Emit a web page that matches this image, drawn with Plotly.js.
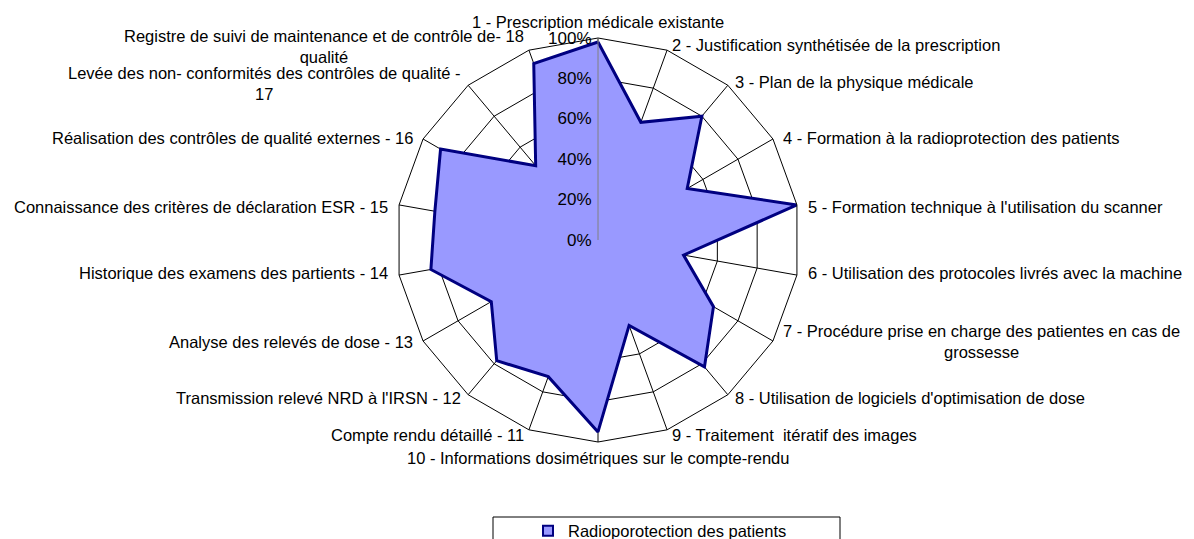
<!DOCTYPE html>
<html>
<head>
<meta charset="utf-8">
<script src="https://cdn.plot.ly/plotly-3.0.1.min.js"></script>
<style>html,body{margin:0;padding:0;background:#fff;}#chart{width:1194px;height:539px;}</style>
</head>
<body>
<div id="chart"></div>
<script>
const categories = [
  "1 - Prescription médicale existante",
  "2 - Justification synthétisée de la prescription",
  "3 - Plan de la physique médicale",
  "4 - Formation à la radioprotection des patients",
  "5 - Formation technique à l'utilisation du scanner",
  "6 - Utilisation des protocoles livrés avec la machine",
  "7 - Procédure prise en charge des patientes en cas de<br>grossesse",
  "8 - Utilisation de logiciels d'optimisation de dose",
  "9 - Traitement  itératif des images",
  "10 - Informations dosimétriques sur le compte-rendu",
  "Compte rendu détaillé - 11",
  "Transmission relevé NRD à l'IRSN - 12",
  "Analyse des relevés de dose - 13",
  "Historique des examens des partients - 14",
  "Connaissance des critères de déclaration ESR - 15",
  "Réalisation des contrôles de qualité externes - 16",
  "Levée des non- conformités des contrôles de qualité -<br>17",
  "Registre de suivi de maintenance et de contrôle de- 18<br>qualité"
];
const values = [0.98, 0.62, 0.80, 0.51, 1.00, 0.43, 0.66, 0.82, 0.45, 0.95, 0.72, 0.78, 0.61, 0.84, 0.82, 0.90, 0.48, 0.93];
const seriesName = "Radioporotection des patients";
const radialTickVals = [0, 0.2, 0.4, 0.6, 0.8, 1.0];
const radialTickText = ["0%", "20%", "40%", "60%", "80%", "100%"];

const W = 1194, H = 539;
const font = "Liberation Sans, Arial, sans-serif";
const CX = 598, CY = 240, R = 202;

// category labels placed just outside the outer polygon
const annotations = categories.map((txt, i) => {
  const a = i * 2 * Math.PI / categories.length;
  const s = Math.sin(a), c = Math.cos(a);
  const d = R + 10;
  const px = CX + d * s;
  let py = CY - d * c + 4 * Math.sign(c);
  if (txt.indexOf("<br>") >= 0 && s < 0) py += 2;
  let xanchor = "center", yanchor = "middle";
  if (s > 0.05) xanchor = "left"; else if (s < -0.05) xanchor = "right";
  else yanchor = c > 0 ? "bottom" : "top";
  return {
    text: txt, showarrow: false, xref: "paper", yref: "paper",
    x: px / W, y: 1 - py / H, xanchor: xanchor, yanchor: yanchor,
    align: "center", borderpad: 0,
    font: {family: font, size: 16.5, color: "#000"}
  };
});

const trace = {
  type: "scatterpolar",
  r: values.concat([values[0]]),
  theta: categories.concat([categories[0]]),
  mode: "lines",
  fill: "toself",
  fillcolor: "#9999FF",
  line: {color: "#000080", width: 3},
  name: seriesName,
  showlegend: false,
  hoverinfo: "skip"
};
// legend-only entry (no drawn point) showing the square swatch
const legendTrace = {
  type: "scatterpolar",
  r: [null], theta: [null],
  mode: "markers",
  marker: {symbol: "square", size: 10, color: "#9999FF", line: {color: "#000080", width: 2}},
  name: seriesName,
  showlegend: true,
  hoverinfo: "skip"
};
const layout = {
  width: W, height: H,
  margin: {l: 0, r: 0, t: 0, b: 0, autoexpand: false},
  paper_bgcolor: "#ffffff",
  font: {family: font, size: 16.5, color: "#000"},
  showlegend: true,
  legend: {
    orientation: "h", x: 660 / W, xanchor: "center",
    y: 1 - 531 / H, yanchor: "middle",
    bgcolor: "rgba(0,0,0,0)", borderwidth: 0,
    font: {family: font, size: 16.5, color: "#000"}
  },
  shapes: [{
    type: "rect", xref: "paper", yref: "paper",
    x0: 493 / W, x1: 840 / W, y0: -0.02, y1: (H - 517) / H,
    line: {color: "#000", width: 1}, fillcolor: "rgba(0,0,0,0)"
  }],
  annotations: annotations,
  polar: {
    domain: {x: [(CX - R) / W, (CX + R) / W], y: [1 - (CY + R) / H, 1 - (CY - R) / H]},
    bgcolor: "rgba(0,0,0,0)",
    gridshape: "linear",
    angularaxis: {
      direction: "clockwise", rotation: 90,
      categoryorder: "array", categoryarray: categories,
      showline: true, linecolor: "#000", linewidth: 1,
      showgrid: true, gridcolor: "#000", gridwidth: 1,
      ticks: "", showticklabels: false
    },
    radialaxis: {
      range: [0, 1], angle: 90, side: "counterclockwise",
      tickvals: radialTickVals, ticktext: radialTickText,
      showline: true, linecolor: "#808080", linewidth: 1,
      showgrid: true, gridcolor: "#000", gridwidth: 1,
      ticks: "", tickangle: 90,
      tickfont: {family: font, size: 17, color: "#000"}
    }
  }
};
Plotly.newPlot("chart", [trace, legendTrace], layout, {displayModeBar: false, staticPlot: true});
</script>
</body>
</html>
